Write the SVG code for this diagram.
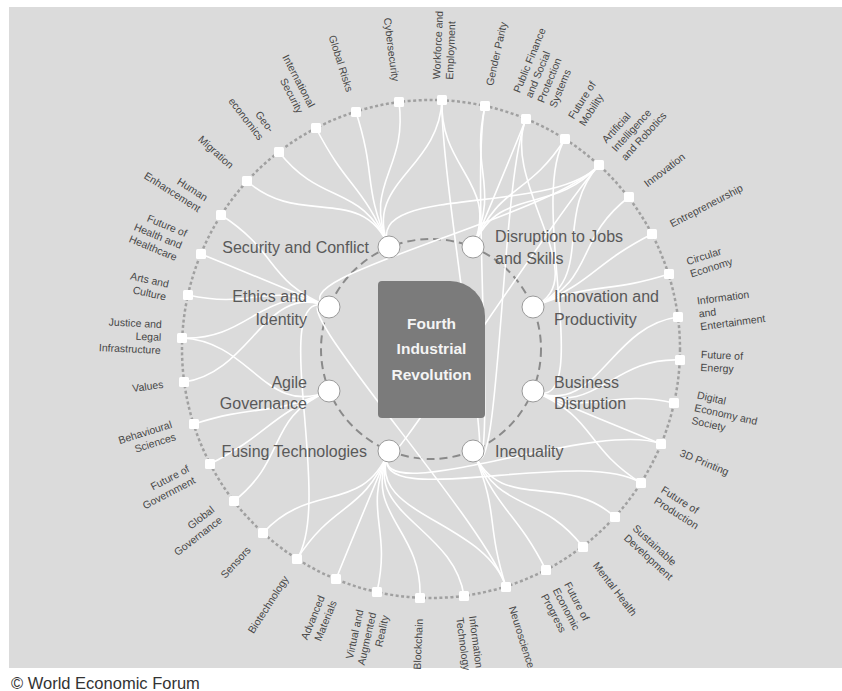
<svg xmlns="http://www.w3.org/2000/svg" width="842" height="691" viewBox="0 0 842 691">
<style>
.conn path{fill:none;stroke:#ffffff;stroke-width:1.6}
.sq{fill:#ffffff}
.ic{fill:#ffffff;stroke:#9a9a9a;stroke-width:1}
.lbl{font-family:"Liberation Sans",Arial,sans-serif;font-size:10.5px;fill:#474747}
.r{text-anchor:start}
.l{text-anchor:end}
.il{font-family:"Liberation Sans",Arial,sans-serif;font-size:16px;fill:#595959}
.ct{font-family:"Liberation Sans",Arial,sans-serif;font-size:15.5px;font-weight:bold;fill:#f4f4f4;text-anchor:middle}
</style>
<rect x="0" y="0" width="842" height="691" fill="#ffffff"/>
<rect x="9" y="7" width="833" height="661" fill="#dbdbdb"/>
<circle cx="431" cy="349" r="249" fill="none" stroke="#a0a0a0" stroke-width="2.5" stroke-dasharray="3 2.5"/>
<circle cx="431" cy="349" r="110" fill="none" stroke="#8a8a8a" stroke-width="2" stroke-dasharray="8 5"/>
<g id="connectors" class="conn">
<path d="M247,181 C299,228 362,183 389,247"/>
<path d="M279,152 C322,207 362,183 389,247"/>
<path d="M316,128 C348,190 362,183 389,247"/>
<path d="M356,112 C377,178 362,183 389,247"/>
<path d="M399,102 C408,171 362,183 389,247"/>
<path d="M442,100 C439,170 362,183 389,247"/>
<path d="M599,165 C552,217 362,183 389,247"/>
<path d="M442,100 C439,170 500,183 473,247"/>
<path d="M485,106 C470,174 500,183 473,247"/>
<path d="M526,119 C500,183 500,183 473,247"/>
<path d="M565,139 C527,198 500,183 473,247"/>
<path d="M599,165 C552,217 500,183 473,247"/>
<path d="M629,197 C573,240 597,280 533,307"/>
<path d="M652,234 C590,266 597,280 533,307"/>
<path d="M669,274 C602,295 597,280 533,307"/>
<path d="M599,165 C552,217 597,280 533,307"/>
<path d="M526,119 C500,183 597,280 533,307"/>
<path d="M678,317 C609,326 597,418 533,391"/>
<path d="M680,360 C610,357 597,418 533,391"/>
<path d="M674,403 C606,388 597,418 533,391"/>
<path d="M661,444 C597,418 597,418 533,391"/>
<path d="M641,483 C582,445 597,418 533,391"/>
<path d="M565,139 C527,198 597,418 533,391"/>
<path d="M615,517 C563,470 500,515 473,451"/>
<path d="M583,547 C540,491 500,515 473,451"/>
<path d="M546,570 C514,508 500,515 473,451"/>
<path d="M506,587 C485,520 500,515 473,451"/>
<path d="M485,106 C470,174 500,515 473,451"/>
<path d="M442,100 C439,170 500,515 473,451"/>
<path d="M526,119 C500,183 500,515 473,451"/>
<path d="M263,533 C310,481 362,515 389,451"/>
<path d="M297,559 C335,500 362,515 389,451"/>
<path d="M336,579 C362,515 362,515 389,451"/>
<path d="M377,592 C392,524 362,515 389,451"/>
<path d="M420,598 C423,528 362,515 389,451"/>
<path d="M464,596 C454,527 362,515 389,451"/>
<path d="M506,587 C485,520 362,515 389,451"/>
<path d="M661,444 C597,418 362,515 389,451"/>
<path d="M641,483 C582,445 362,515 389,451"/>
<path d="M599,165 C552,217 362,515 389,451"/>
<path d="M234,501 C289,458 265,418 329,391"/>
<path d="M210,464 C272,432 265,418 329,391"/>
<path d="M194,424 C260,403 265,418 329,391"/>
<path d="M182,338 C252,341 265,418 329,391"/>
<path d="M184,382 C253,372 265,280 329,307"/>
<path d="M182,338 C252,341 265,280 329,307"/>
<path d="M188,295 C256,310 265,280 329,307"/>
<path d="M201,254 C265,280 265,280 329,307"/>
<path d="M221,215 C280,253 265,280 329,307"/>
<path d="M599,165 C552,217 265,280 329,307"/>
<path d="M297,559 C335,500 265,280 329,307"/>
<path d="M506,587 C485,520 265,280 329,307"/>
</g>
<g id="center">
<path d="M382,281 H450 A35,35 0 0 1 485,316 V414 A4,4 0 0 1 481,418 H382 A4,4 0 0 1 378,414 V285 A4,4 0 0 1 382,281 Z" fill="#7b7b7b"/>
<text class="ct" x="431.5" y="329">Fourth</text>
<text class="ct" x="431.5" y="354">Industrial</text>
<text class="ct" x="431.5" y="380">Revolution</text>
</g>
<g id="k-security"><circle class="ic" cx="389" cy="247" r="11"/><text class="il" x="369" y="253" text-anchor="end">Security and Conflict</text></g>
<g id="k-jobs"><circle class="ic" cx="473" cy="247" r="11"/><text class="il" x="495" y="242">Disruption to Jobs</text><text class="il" x="495" y="264">and Skills</text></g>
<g id="k-ethics"><circle class="ic" cx="329" cy="307" r="11"/><text class="il" x="307" y="302" text-anchor="end">Ethics and</text><text class="il" x="307" y="325" text-anchor="end">Identity</text></g>
<g id="k-innovation"><circle class="ic" cx="533" cy="307" r="11"/><text class="il" x="554" y="302">Innovation and</text><text class="il" x="554" y="325">Productivity</text></g>
<g id="k-agile"><circle class="ic" cx="329" cy="391" r="11"/><text class="il" x="307" y="388" text-anchor="end">Agile</text><text class="il" x="307" y="409" text-anchor="end">Governance</text></g>
<g id="k-business"><circle class="ic" cx="533" cy="391" r="11"/><text class="il" x="554" y="388">Business</text><text class="il" x="554" y="409">Disruption</text></g>
<g id="k-fusing"><circle class="ic" cx="389" cy="451" r="11"/><text class="il" x="367" y="457" text-anchor="end">Fusing Technologies</text></g>
<g id="k-inequality"><circle class="ic" cx="473" cy="451" r="11"/><text class="il" x="495" y="457">Inequality</text></g>

<g id="n0"><rect class="sq" x="437" y="95" width="10" height="10" rx="1.5"/><text class="lbl r" transform="translate(431 349) rotate(-87.5)"><tspan x="270" y="-2.8">Workforce and</tspan><tspan x="270" y="10.2">Employment</tspan></text></g>
<g id="n1"><rect class="sq" x="480" y="101" width="10" height="10" rx="1.5"/><text class="lbl r" transform="translate(431 349) rotate(-77.5)"><tspan x="270" y="3.7">Gender Parity</tspan></text></g>
<g id="n2"><rect class="sq" x="521" y="114" width="10" height="10" rx="1.5"/><text class="lbl r" transform="translate(431 349) rotate(-67.5)"><tspan x="270" y="-15.8">Public Finance</tspan><tspan x="270" y="-2.8">and Social</tspan><tspan x="270" y="10.2">Protection</tspan><tspan x="270" y="23.2">Systems</tspan></text></g>
<g id="n3"><rect class="sq" x="560" y="134" width="10" height="10" rx="1.5"/><text class="lbl r" transform="translate(431 349) rotate(-57.5)"><tspan x="270" y="-2.8">Future of</tspan><tspan x="270" y="10.2">Mobility</tspan></text></g>
<g id="n4"><rect class="sq" x="594" y="160" width="10" height="10" rx="1.5"/><text class="lbl r" transform="translate(431 349) rotate(-47.5)"><tspan x="270" y="-9.3">Artificial</tspan><tspan x="270" y="3.7">Intelligence</tspan><tspan x="270" y="16.7">and Robotics</tspan></text></g>
<g id="n5"><rect class="sq" x="624" y="192" width="10" height="10" rx="1.5"/><text class="lbl r" transform="translate(431 349) rotate(-37.5)"><tspan x="270" y="3.7">Innovation</tspan></text></g>
<g id="n6"><rect class="sq" x="647" y="229" width="10" height="10" rx="1.5"/><text class="lbl r" transform="translate(431 349) rotate(-27.5)"><tspan x="270" y="3.7">Entrepreneurship</tspan></text></g>
<g id="n7"><rect class="sq" x="664" y="269" width="10" height="10" rx="1.5"/><text class="lbl r" transform="translate(431 349) rotate(-17.5)"><tspan x="270" y="-2.8">Circular</tspan><tspan x="270" y="10.2">Economy</tspan></text></g>
<g id="n8"><rect class="sq" x="673" y="312" width="10" height="10" rx="1.5"/><text class="lbl r" transform="translate(431 349) rotate(-7.5)"><tspan x="270" y="-9.3">Information</tspan><tspan x="270" y="3.7">and</tspan><tspan x="270" y="16.7">Entertainment</tspan></text></g>
<g id="n9"><rect class="sq" x="675" y="355" width="10" height="10" rx="1.5"/><text class="lbl r" transform="translate(431 349) rotate(2.5)"><tspan x="270" y="-2.8">Future of</tspan><tspan x="270" y="10.2">Energy</tspan></text></g>
<g id="n10"><rect class="sq" x="669" y="398" width="10" height="10" rx="1.5"/><text class="lbl r" transform="translate(431 349) rotate(12.5)"><tspan x="270" y="-9.3">Digital</tspan><tspan x="270" y="3.7">Economy and</tspan><tspan x="270" y="16.7">Society</tspan></text></g>
<g id="n11"><rect class="sq" x="656" y="439" width="10" height="10" rx="1.5"/><text class="lbl r" transform="translate(431 349) rotate(22.5)"><tspan x="270" y="3.7">3D Printing</tspan></text></g>
<g id="n12"><rect class="sq" x="636" y="478" width="10" height="10" rx="1.5"/><text class="lbl r" transform="translate(431 349) rotate(32.5)"><tspan x="270" y="-2.8">Future of</tspan><tspan x="270" y="10.2">Production</tspan></text></g>
<g id="n13"><rect class="sq" x="610" y="512" width="10" height="10" rx="1.5"/><text class="lbl r" transform="translate(431 349) rotate(42.5)"><tspan x="270" y="-2.8">Sustainable</tspan><tspan x="270" y="10.2">Development</tspan></text></g>
<g id="n14"><rect class="sq" x="578" y="542" width="10" height="10" rx="1.5"/><text class="lbl r" transform="translate(431 349) rotate(52.5)"><tspan x="270" y="3.7">Mental Health</tspan></text></g>
<g id="n15"><rect class="sq" x="541" y="565" width="10" height="10" rx="1.5"/><text class="lbl r" transform="translate(431 349) rotate(62.5)"><tspan x="270" y="-9.3">Future of</tspan><tspan x="270" y="3.7">Economic</tspan><tspan x="270" y="16.7">Progress</tspan></text></g>
<g id="n16"><rect class="sq" x="501" y="582" width="10" height="10" rx="1.5"/><text class="lbl r" transform="translate(431 349) rotate(72.5)"><tspan x="270" y="3.7">Neuroscience</tspan></text></g>
<g id="n17"><rect class="sq" x="459" y="591" width="10" height="10" rx="1.5"/><text class="lbl r" transform="translate(431 349) rotate(82.5)"><tspan x="270" y="-2.8">Information</tspan><tspan x="270" y="10.2">Technology</tspan></text></g>
<g id="n18"><rect class="sq" x="415" y="593" width="10" height="10" rx="1.5"/><text class="lbl l" transform="translate(431 349) rotate(-87.5)"><tspan x="-270" y="3.7">Blockchain</tspan></text></g>
<g id="n19"><rect class="sq" x="372" y="587" width="10" height="10" rx="1.5"/><text class="lbl l" transform="translate(431 349) rotate(-77.5)"><tspan x="-270" y="-9.3">Virtual and</tspan><tspan x="-270" y="3.7">Augmented</tspan><tspan x="-270" y="16.7">Reality</tspan></text></g>
<g id="n20"><rect class="sq" x="331" y="574" width="10" height="10" rx="1.5"/><text class="lbl l" transform="translate(431 349) rotate(-67.5)"><tspan x="-270" y="-2.8">Advanced</tspan><tspan x="-270" y="10.2">Materials</tspan></text></g>
<g id="n21"><rect class="sq" x="292" y="554" width="10" height="10" rx="1.5"/><text class="lbl l" transform="translate(431 349) rotate(-57.5)"><tspan x="-270" y="3.7">Biotechnology</tspan></text></g>
<g id="n22"><rect class="sq" x="258" y="528" width="10" height="10" rx="1.5"/><text class="lbl l" transform="translate(431 349) rotate(-47.5)"><tspan x="-270" y="3.7">Sensors</tspan></text></g>
<g id="n23"><rect class="sq" x="229" y="496" width="10" height="10" rx="1.5"/><text class="lbl l" transform="translate(431 349) rotate(-37.5)"><tspan x="-270" y="-2.8">Global</tspan><tspan x="-270" y="10.2">Governance</tspan></text></g>
<g id="n24"><rect class="sq" x="205" y="459" width="10" height="10" rx="1.5"/><text class="lbl l" transform="translate(431 349) rotate(-27.5)"><tspan x="-270" y="-2.8">Future of</tspan><tspan x="-270" y="10.2">Government</tspan></text></g>
<g id="n25"><rect class="sq" x="189" y="419" width="10" height="10" rx="1.5"/><text class="lbl l" transform="translate(431 349) rotate(-17.5)"><tspan x="-270" y="-2.8">Behavioural</tspan><tspan x="-270" y="10.2">Sciences</tspan></text></g>
<g id="n26"><rect class="sq" x="179" y="377" width="10" height="10" rx="1.5"/><text class="lbl l" transform="translate(431 349) rotate(-7.5)"><tspan x="-270" y="3.7">Values</tspan></text></g>
<g id="n27"><rect class="sq" x="177" y="333" width="10" height="10" rx="1.5"/><text class="lbl l" transform="translate(431 349) rotate(2.5)"><tspan x="-270" y="-9.3">Justice and</tspan><tspan x="-270" y="3.7">Legal</tspan><tspan x="-270" y="16.7">Infrastructure</tspan></text></g>
<g id="n28"><rect class="sq" x="183" y="290" width="10" height="10" rx="1.5"/><text class="lbl l" transform="translate(431 349) rotate(12.5)"><tspan x="-270" y="-2.8">Arts and</tspan><tspan x="-270" y="10.2">Culture</tspan></text></g>
<g id="n29"><rect class="sq" x="196" y="249" width="10" height="10" rx="1.5"/><text class="lbl l" transform="translate(431 349) rotate(22.5)"><tspan x="-270" y="-9.3">Future of</tspan><tspan x="-270" y="3.7">Health and</tspan><tspan x="-270" y="16.7">Healthcare</tspan></text></g>
<g id="n30"><rect class="sq" x="216" y="210" width="10" height="10" rx="1.5"/><text class="lbl l" transform="translate(431 349) rotate(32.5)"><tspan x="-270" y="-2.8">Human</tspan><tspan x="-270" y="10.2">Enhancement</tspan></text></g>
<g id="n31"><rect class="sq" x="242" y="176" width="10" height="10" rx="1.5"/><text class="lbl l" transform="translate(431 349) rotate(42.5)"><tspan x="-270" y="3.7">Migration</tspan></text></g>
<g id="n32"><rect class="sq" x="274" y="147" width="10" height="10" rx="1.5"/><text class="lbl l" transform="translate(431 349) rotate(52.5)"><tspan x="-270" y="-2.8">Geo-</tspan><tspan x="-270" y="10.2">economics</tspan></text></g>
<g id="n33"><rect class="sq" x="311" y="123" width="10" height="10" rx="1.5"/><text class="lbl l" transform="translate(431 349) rotate(62.5)"><tspan x="-270" y="-2.8">International</tspan><tspan x="-270" y="10.2">Security</tspan></text></g>
<g id="n34"><rect class="sq" x="351" y="107" width="10" height="10" rx="1.5"/><text class="lbl l" transform="translate(431 349) rotate(72.5)"><tspan x="-270" y="3.7">Global Risks</tspan></text></g>
<g id="n35"><rect class="sq" x="394" y="97" width="10" height="10" rx="1.5"/><text class="lbl l" transform="translate(431 349) rotate(82.5)"><tspan x="-270" y="3.7">Cybersecurity</tspan></text></g>
<text x="11" y="689" font-family="Liberation Sans, Arial, sans-serif" font-size="16.5" fill="#333333">© World Economic Forum</text>
</svg>
